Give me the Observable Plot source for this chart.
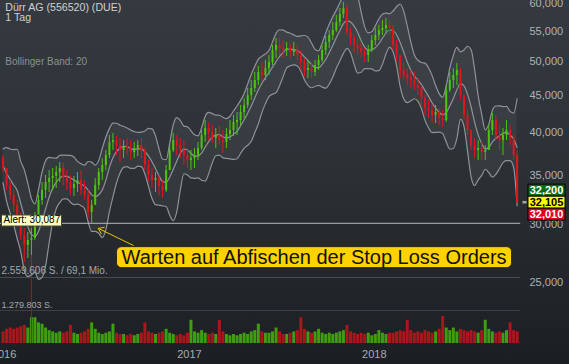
<!DOCTYPE html>
<html><head><meta charset="utf-8">
<script src="https://cdn.jsdelivr.net/npm/d3@7"></script>
<script src="https://cdn.jsdelivr.net/npm/@observablehq/plot@0.6"></script>
<style>
html,body{margin:0;padding:0;}
body{width:569px;height:364px;overflow:hidden;background:linear-gradient(#343a3f 0%,#2c3136 45%,#1b1e22 100%);font-family:"Liberation Sans",Arial,sans-serif;}
#wrap{position:relative;width:569px;height:364px;}
#wrap svg{position:absolute;left:0;top:0;}
</style></head><body><div id="wrap"></div>
<script>
// Weekly bars (week of 28 Dec 2015 ... week of 8 Oct 2018), prices in EUR
const high = [37.24,35.52,34.42,33.36,32.33,31.13,29.61,29.24,29.61,31.13,
32.84,34.20,34.97,35.52,35.75,35.97,36.43,36.32,35.52,34.97,
34.86,35.30,35.52,34.42,33.36,32.33,34.64,35.75,36.89,37.83,
39.65,39.90,39.53,39.28,39.03,39.28,39.03,38.79,39.03,39.28,
38.06,36.66,35.75,35.30,34.97,34.42,36.09,38.42,39.90,39.65,
39.28,39.03,37.83,37.83,38.06,38.79,40.28,41.57,41.31,40.92,
40.54,40.79,40.28,40.54,41.57,42.23,42.63,43.58,44.55,45.97,
47.14,48.35,49.26,49.89,50.20,51.00,52.63,53.80,53.80,53.46,
53.13,52.79,53.13,52.63,51.81,50.52,50.20,49.89,50.20,51.00,
52.63,54.14,55.17,56.57,57.83,59.12,60.25,59.68,55.52,54.31,
53.80,53.13,52.13,52.63,54.31,55.52,56.04,56.93,57.29,56.93,
56.04,53.46,51.00,49.89,48.95,48.65,48.35,47.44,46.40,44.97,
44.27,43.58,43.58,43.17,42.90,46.40,48.35,48.95,49.73,48.95,
44.97,42.90,40.28,39.28,39.03,38.79,38.42,40.92,42.50,42.23,
40.92,40.54,41.57,40.92,39.65,37.83];
const low = [35.30,33.36,32.33,31.13,29.89,28.51,26.60,26.93,27.19,28.51,
30.17,31.83,32.53,33.15,33.36,33.57,34.20,33.88,33.36,32.84,
32.74,33.15,32.84,32.33,30.55,30.08,31.83,33.36,34.42,35.52,
36.89,37.83,37.24,36.43,36.89,37.24,36.66,36.89,37.12,36.89,
35.52,34.20,33.57,33.15,32.84,32.53,33.15,35.52,37.59,37.24,
36.89,36.09,35.75,35.52,35.75,36.66,37.83,38.79,39.03,38.66,
38.06,38.42,37.48,38.06,39.03,39.53,39.65,40.92,41.83,43.17,
44.27,45.39,46.40,46.84,47.14,47.89,49.42,50.52,51.00,50.52,
50.84,50.52,50.84,50.20,48.65,47.74,47.44,47.44,47.74,48.65,
49.89,51.00,52.13,53.46,54.82,55.87,57.29,54.31,52.63,51.49,
51.00,50.52,49.89,49.89,51.49,52.63,53.46,54.31,54.82,54.31,
51.81,49.89,47.44,47.14,46.40,45.97,45.68,44.97,43.58,42.23,
41.83,41.31,41.18,40.92,40.66,41.31,45.39,45.97,46.40,44.27,
41.57,39.65,37.83,36.89,36.66,36.66,36.66,37.83,39.65,39.03,
37.83,37.24,39.03,38.42,36.66,32.01];
const close = [35.75,33.88,32.84,31.83,30.55,28.96,28.07,28.51,28.69,30.55,
32.33,33.36,34.20,34.64,34.86,35.30,35.75,34.64,34.20,33.57,
33.99,34.42,33.36,32.84,31.13,31.83,33.88,35.30,36.09,37.24,
38.79,39.03,38.42,37.83,38.30,38.06,37.59,38.06,38.42,37.83,
36.09,34.97,34.42,34.64,33.78,33.36,35.52,37.83,39.03,38.42,
37.83,37.24,36.66,36.89,37.24,38.06,39.65,40.54,40.03,39.28,
39.65,39.03,38.79,39.78,40.28,41.31,41.57,42.63,43.58,44.97,
45.97,47.14,48.35,47.89,48.95,49.89,51.81,52.63,52.13,51.81,
52.13,51.49,51.81,51.00,49.89,48.65,48.95,48.35,49.42,50.20,
51.81,53.13,54.31,55.17,56.57,58.02,59.12,54.82,53.80,52.63,
52.13,51.49,51.00,51.81,53.46,54.31,55.17,55.52,56.04,55.52,
52.63,51.00,48.65,47.89,47.44,47.14,46.40,45.97,44.55,43.17,
42.90,42.23,42.63,41.83,41.57,45.68,47.14,47.89,48.65,44.97,
42.23,40.28,38.42,37.83,38.06,37.59,37.83,40.28,41.57,39.65,
39.03,39.65,40.28,39.28,37.24,32.105];
const firstOpen = 36.9;
// volume, million shares (weekly level)
const volume = [0.45,0.55,0.6,0.55,0.6,0.65,0.7,0.6,1.0,1.0,
0.8,0.75,0.6,0.5,0.45,0.4,0.45,0.4,0.45,0.7,
0.4,0.35,0.4,0.45,0.55,0.8,0.55,0.4,0.35,0.4,
0.45,0.75,0.4,0.35,0.35,0.3,0.35,0.3,0.35,0.4,
0.8,0.45,0.4,0.35,0.4,0.45,0.55,0.4,0.35,0.3,
0.35,0.3,0.4,0.9,0.45,0.4,0.5,0.4,0.35,0.4,
0.35,0.9,0.45,0.35,0.3,0.35,0.3,0.35,0.4,0.35,
0.45,0.5,0.75,0.45,0.4,0.4,0.45,0.6,0.45,0.35,
0.35,0.4,0.45,0.5,1.0,0.55,0.45,0.4,0.45,0.55,
0.4,0.35,0.4,0.35,0.4,0.45,0.5,0.7,0.45,0.4,
0.35,0.4,0.35,0.4,0.3,0.35,0.5,0.4,0.35,0.4,
0.4,0.45,0.5,0.45,0.9,0.5,0.4,0.45,0.4,0.5,
0.45,0.4,0.45,0.55,1.05,0.6,0.5,0.6,0.45,0.55,
0.5,0.45,0.5,0.45,0.4,0.5,0.9,0.55,0.45,0.4,
0.45,0.4,0.5,0.8,0.5,0.45];
// single-day volume peak
const peakDay = [{date:"2016-02-24", volume:4.6}];
const priceTicks = [25,30,35,40,45,50,55,60];
const yearTicks = ["2016-01-01","2017-01-01","2018-01-01"];
const volMax = 2.559606, volHalf = 1.279803;
const volLabels = ["2.559.606 S. / 69,1 Mio.", "1.279.803 S."];
const alertLevel = 30.087;
const quotes = [
  {label:"32,200", fill:"#0d6b14", color:"#fff"},
  {label:"32,105", fill:"#ffff00", color:"#000"},
  {label:"32,010", fill:"#e0001b", color:"#fff"}];
const lastPrice = 32.105;
const annotText = "Warten auf Abfischen der Stop Loss Orders";
const annot = [{x:new Date("2017-09-04"), y:27.0, text:annotText,
  x1:new Date("2016-09-12"), y1:28.07, x2:new Date("2016-07-05"), y2:29.61}];
const titleLines = ["Dürr AG (556520) (DUE)", "1 Tag"];
const indicatorLabel = "Bollinger Band: 20";

const green = "#4cc50c", red = "#e3141c", vGreen = "#3f9d12", vRed = "#ad151c";
const start = new Date(Date.UTC(2015,11,30));
const data = close.map((c,i) => {
  const open = i === 0 ? firstOpen : close[i-1];
  const up = c >= open;
  return {date:d3.utcDay.offset(start, 7*i), open, close:c,
    high:Math.max(high[i], open, c), low:Math.min(low[i], open, c),
    volume:volume[i], color:up?green:red, vcolor:up?vGreen:vRed};
});
// Bollinger band (20 trading days ~ 4-5 weekly bars)
const bands = data.map((d,i) => {
  const win = data.slice(Math.max(0,i-4), i+1).flatMap(w => [w.high, w.low, w.close]);
  const m = d3.mean(win);
  const sd = Math.sqrt(d3.mean(win, v => (v-m)**2));
  return {date:d.date, mid:m, upper:m+2.3*sd, lower:m-2.3*sd};
});
const xDomain = [new Date("2015-12-25"), new Date("2018-10-17")];
const font = "Liberation Sans, Arial, sans-serif";
const fmt = v => v.toFixed(3).replace(".", ",");
const bandStroke = "#8f9398";

const volPlot = Plot.plot({
  width:569, height:364, marginLeft:0, marginRight:48.8, marginTop:277, marginBottom:21,
  style:{background:"transparent", color:"#a9adb1", fontFamily:font, fontSize:"11px"},
  x:{type:"utc", domain:xDomain, axis:null},
  y:{domain:[0, volMax], axis:null},
  color:{type:"identity"},
  marks:[
    Plot.ruleY([volMax], {stroke:"#454b51"}),
    Plot.ruleY([volHalf], {stroke:"#3b4046"}),
    Plot.ruleX(data, {x:"date", y1:0, y2:"volume", stroke:"vcolor", strokeWidth:3}),
    Plot.ruleX(peakDay, {x:d=>new Date(d.date), y1:0, y2:"volume", stroke:vRed, strokeWidth:1}),
    Plot.text([volLabels[0]], {frameAnchor:"left", y:() => volMax, text:d=>d, textAnchor:"start", lineAnchor:"bottom", dx:1, dy:-4, fontSize:10, fill:"#a3a7ab"}),
    Plot.text([volLabels[1]], {frameAnchor:"left", y:() => volHalf, text:d=>d, textAnchor:"start", lineAnchor:"bottom", dx:1, dy:-2.5, fontSize:9, fill:"#a3a7ab"}),
    Plot.axisX({ticks:yearTicks.map(s=>new Date(s)), tickFormat:"%Y", tickSize:0, tickPadding:7, label:null})
  ]
});

const pricePlot = Plot.plot({
  width:569, height:364, marginLeft:0, marginRight:48.8, marginTop:3.3, marginBottom:82.3,
  style:{background:"transparent", color:"#aeb2b6", fontFamily:font, fontSize:"11px"},
  x:{type:"utc", domain:xDomain, axis:null},
  y:{type:"log", domain:[25,60], axis:null},
  color:{type:"identity"},
  marks:[
    Plot.areaY(bands, {x:"date", y1:"lower", y2:"upper", fill:"#ffffff", fillOpacity:0.05, curve:"monotone-x"}),
    Plot.lineY(bands, {x:"date", y:"upper", stroke:bandStroke, strokeWidth:1.2, curve:"monotone-x"}),
    Plot.lineY(bands, {x:"date", y:"lower", stroke:bandStroke, strokeWidth:1.2, curve:"monotone-x"}),
    Plot.lineY(bands, {x:"date", y:"mid", stroke:bandStroke, strokeWidth:1.2, curve:"monotone-x"}),
    Plot.ruleY([alertLevel], {stroke:"#b8b8b8"}),
    Plot.ruleX(data, {x:"date", y1:"low", y2:"high", stroke:"color", strokeWidth:1}),
    Plot.ruleX(data, {x:"date", y1:"open", y2:"close", stroke:"color", strokeWidth:2}),
    Plot.axisY({anchor:"right", ticks:priceTicks, tickSize:0, tickPadding:8.8, tickFormat:fmt, label:null}),
    Plot.arrow(annot, {x1:"x1", y1:"y1", x2:"x2", y2:"y2", stroke:"#e8c400", strokeWidth:1, headLength:9, headAngle:70}),
    Plot.text(annot, {x:"x", y:"y", text:"text", fontSize:20, fill:"#111"})
  ]
});

const wrap = document.getElementById("wrap");
wrap.appendChild(volPlot);
wrap.appendChild(pricePlot);

const svg = d3.select(pricePlot);
const ysc = pricePlot.scale("y");
const y = d3.scaleLog().domain(ysc.domain).range(ysc.range);

// annotation box (placed in the text's own coordinate frame)
const annotNode = Array.from(pricePlot.querySelectorAll("text")).find(t => t.textContent === annotText);
if (annotNode) {
  const bb = annotNode.getBBox();
  d3.select(annotNode.parentNode).insert("rect", () => annotNode)
    .attr("transform", annotNode.getAttribute("transform"))
    .attr("x", bb.x-5).attr("y", bb.y+0.5).attr("width", bb.width+10).attr("height", bb.height-1)
    .attr("rx", 5).attr("fill", "#ffd200").attr("stroke", "#2c2a10").attr("stroke-width", 1);
}

// alert label
const ya = y(alertLevel);
const ag = svg.append("g").attr("text-anchor", "start");
ag.append("rect").attr("x", 1.5).attr("y", ya-7.8).attr("width", 60).attr("height", 11)
  .attr("fill", "#ffffc6").attr("stroke", "#4a4a30");
ag.append("text").attr("x", 3.5).attr("y", ya+0.5).attr("font-size", 10).attr("fill", "#000")
  .attr("font-family", font).text("Alert: " + fmt(alertLevel));

// last price marker and quote tags
const yl = y(lastPrice);
svg.append("rect").attr("x", 522.5).attr("y", yl-1.2).attr("width", 4).attr("height", 2.5).attr("fill", "#a5a8ab");
quotes.forEach((q,i) => {
  const cy = yl + (i-1)*12;
  svg.append("rect").attr("x", 528).attr("y", cy-6).attr("width", 37).attr("height", 12)
    .attr("fill", q.fill).attr("stroke", "#000").attr("stroke-width", 1);
  svg.append("text").attr("x", 546.5).attr("y", cy+4.2).attr("text-anchor", "middle")
    .attr("font-size", 11).attr("font-weight", "bold").attr("font-family", font)
    .attr("fill", q.color).text(q.label);
});

// titles
const tgp = svg.append("g").attr("text-anchor", "start").attr("font-family", font);
titleLines.forEach((t,i) => {
  tgp.append("text").attr("x", 5.3).attr("y", 11.2 + i*10).attr("font-size", 10.6)
    .attr("fill", "#cfd1d3").text(t);
});
tgp.append("text").attr("x", 5.3).attr("y", 65).attr("font-size", 10)
  .attr("fill", "#8b8f93").text(indicatorLabel);
</script>
</body></html>
